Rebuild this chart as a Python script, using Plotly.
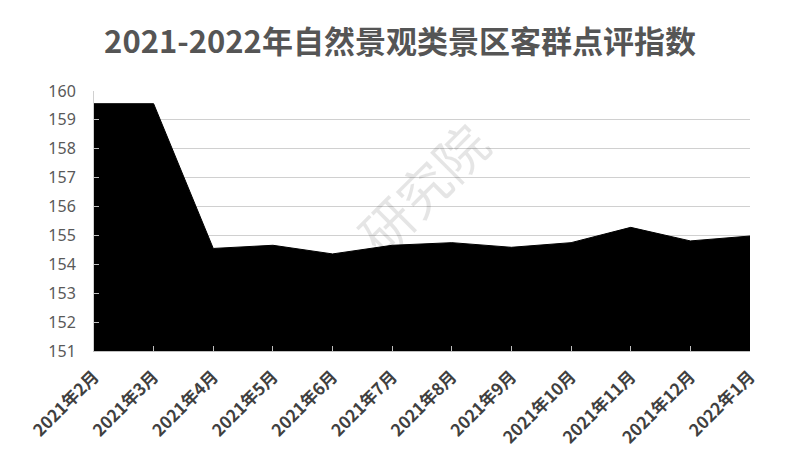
import plotly.graph_objects as go

months = [
    "2021年2月", "2021年3月", "2021年4月", "2021年5月", "2021年6月", "2021年7月",
    "2021年8月", "2021年9月", "2021年10月", "2021年11月", "2021年12月", "2022年1月",
]
index_values = [159.56, 159.56, 154.55, 154.66, 154.36, 154.66,
                154.75, 154.59, 154.75, 155.28, 154.81, 154.98]
y_ticks = list(range(151, 161))

fig = go.Figure()
fig.add_trace(
    go.Scatter(
        x=months,
        y=index_values,
        mode="lines",
        fill="tozeroy",
        fillcolor="black",
        line=dict(color="black", width=1),
        hoverinfo="x+y",
    )
)

fig.update_layout(
    width=800,
    height=463,
    margin=dict(l=86, r=58, t=83, b=120),
    paper_bgcolor="white",
    plot_bgcolor="white",
    showlegend=False,
    title=dict(
        text="2021-2022年自然景观类景区客群点评指数",
        x=0.49,
        xanchor="center",
        y=0.927,
        yanchor="middle",
        font=dict(family="Noto Sans CJK SC", size=31, color="#555555", weight="bold"),
    ),
    font=dict(family="Noto Sans CJK SC"),
)

fig.update_xaxes(
    type="category",
    range=[0, len(months) - 1],
    automargin=False,
    tickangle=-45,
    ticks="inside",
    ticklen=5,
    tickcolor="#bfbfbf",
    ticklabelstandoff=8,
    showline=True,
    linecolor="#bfbfbf",
    linewidth=1,
    showgrid=False,
    tickfont=dict(family="Noto Sans CJK SC", size=17, color="#404040", weight="bold"),
)
fig.update_yaxes(
    range=[151, 160],
    automargin=False,
    tickvals=y_ticks,
    ticks="inside",
    ticklen=5,
    tickcolor="#bfbfbf",
    ticklabelstandoff=14,
    showline=True,
    linecolor="#d0d0d0",
    showgrid=True,
    gridcolor="#d0d0d0",
    gridwidth=1,
    zeroline=False,
    tickfont=dict(family="Liberation Sans Narrow, Noto Sans", size=16, color="#595959"),
)

# faint watermark
fig.add_annotation(
    text="研究院",
    xref="paper", yref="paper",
    x=0.5, y=0.63,
    showarrow=False,
    textangle=-45,
    font=dict(family="Noto Sans CJK SC", size=52, color="rgba(0,0,0,0.1)"),
)

fig.write_html("out.html")
